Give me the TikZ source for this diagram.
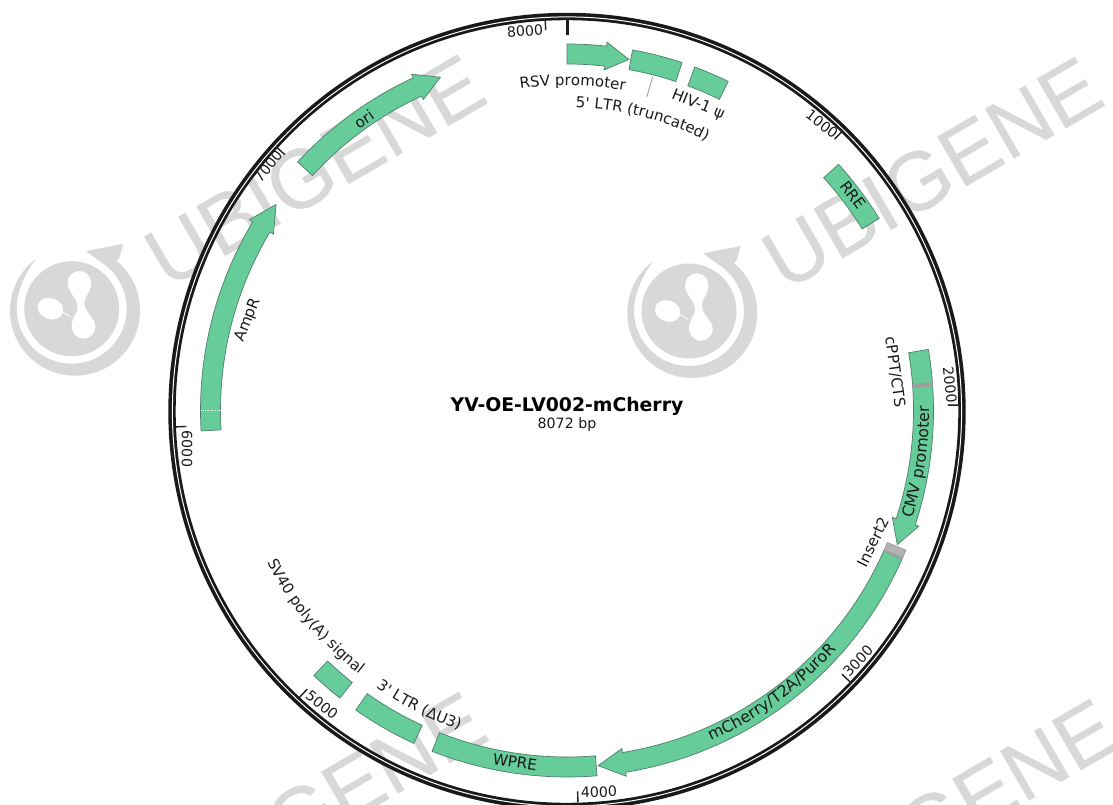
\documentclass[tikz,border=0pt]{standalone}
\usepackage{fontspec}
\setmainfont{DejaVu Sans}[Ligatures=TeXOff]
\newfontfamily\wmfamily[FakeBold=0.5]{Liberation Sans}
\usepackage{tikz}
\usetikzlibrary{decorations.text}
\definecolor{wmgray}{HTML}{D8D8D8}
\definecolor{feat}{HTML}{66CC9A}
\definecolor{featedge}{HTML}{4F7F69}
\definecolor{txt}{HTML}{1A1A1A}
\newcommand{\ri}{346.5}
\newcommand{\ro}{366.5}
\newcommand{\rc}{356.5}
\newcommand{\hi}{342.5}
\newcommand{\ho}{370.5}
\newcommand{\arcfont}{\fontsize{15}{17}\selectfont\color{txt}}
\newcommand{\arcfontbig}{\fontsize{15.8}{17}\selectfont\color{txt}}
% clockwise arrow feature: start, head base, tip (degrees clockwise from the top)
\newcommand{\featarrow}[3]{%
  \draw[featshape] ({#1-90}:\ri) arc[start angle={#1-90},end angle={#2-90},radius=\ri]
    -- ({#2-90}:\hi) -- ({#3-90}:\rc) -- ({#2-90}:\ho) -- ({#2-90}:\ro)
    arc[start angle={#2-90},end angle={#1-90},radius=\ro] -- cycle;}
% plain sector feature: style, start, end
\newcommand{\featseg}[3]{%
  \draw[#1] ({#2-90}:\ri) arc[start angle={#2-90},end angle={#3-90},radius=\ri]
    -- ({#3-90}:\ro) arc[start angle={#3-90},end angle={#2-90},radius=\ro] -- cycle;}
% curved label: font macro, radius of baseline, from angle, to angle, text
\newcommand{\arclabel}[5]{%
  \path[decorate,decoration={text along path,text align=center,
      text={|#1|#5}}]
    ({#3-90}:#2) arc[start angle={#3-90},end angle={#4-90},radius=#2];}
% watermark: logo with its disk centred at the given point, then the word
\newcommand{\wmark}[2]{%
  \begin{scope}[shift={(#1,#2)}]
    \fill[wmgray] (0,0) circle[radius=47.5];
    \fill[wmgray] (14.3,-57.7) -- (51.7,-65) -- (47.7,-51) -- (45.1,-47.8)
      arc[start angle=-50,end angle=233,radius=65]
      .. controls (-46,-36) and (-55,-18) .. (-55,0)
      arc[start angle=180,end angle=-60,radius=55]
      -- cycle;
    \fill[white] (-4,-26) .. controls (-4,-16) and (6,-11) .. (6,-1)
      .. controls (6,4) and (0,9) .. (0,17.3)
      -- (23.7,19) .. controls (23.7,9) and (12.7,4) .. (12.7,-6)
      .. controls (12.7,-12.7) and (19.3,-16) .. (19.3,-26) -- cycle;
    \fill[white] (7.7,-26) circle[radius=11.7];
    \fill[white] (11.85,18) circle[radius=11.85];
    \fill[white,rotate around={-20:(-21.3,0)}] (-21.3,0) ellipse[x radius=13,y radius=10.5];
    \draw[white,line width=0.9] (-9.7,3) -- (-0.7,8.3);
    \node[wmtext] at (243,-138) {UBIGENE};
  \end{scope}}
\tikzset{
  featshape/.style={fill=feat,draw=featedge,line width=0.7pt,line join=miter},
  grayseg/.style={fill=black!30,draw=black!40,line width=0.7pt},
  thinseg/.style={fill=black!38,draw=black!38,line width=0.3pt},
  wmtext/.style={text=wmgray,font=\wmfamily\fontsize{83}{83}\selectfont,rotate=30.2,inner sep=0pt},
  lab/.style={text=txt,font=\fontsize{15.2}{17}\selectfont,inner sep=0pt},
  ticklab/.style={text=txt,font=\fontsize{14.2}{16}\selectfont,inner sep=0pt},
  tickmark/.style={black!88,line width=1.4pt},
}
\begin{document}
\begin{tikzpicture}[x=1pt,y=-1pt]
\useasboundingbox (0,0) rectangle (1113,805);
\clip (0,0) rectangle (1113,805);
% watermarks
\wmark{71.7}{308.7}
\wmark{689}{311}
\wmark{73}{946}
\wmark{704}{953}
\begin{scope}[shift={(567,410.5)}]
  % ring
  \draw[black!90,line width=7.4pt] (0,1) circle[radius=395];
  \draw[white,line width=1pt] (0,1) circle[radius=394.6];
  % ticks
  \coordinate (t0a) at (-90:392.5); \coordinate (t0b) at (-90:375.5);
  \draw[black!88,line width=3pt] (t0a) -- (t0b);
  \foreach \n/\a in {t1/44.6,t2/89.2,t3/133.8,t4/178.4,t5/223,t6/267.6,t7/312.2,t8/356.8}{
    \coordinate (\n a) at ({\a-90}:392);
    \coordinate (\n b) at ({\a-90}:381);
    \draw[tickmark] (\n a) -- (\n b);
  }
  % features
  \featarrow{0}{6.2}{10.0}
  \featseg{featshape}{10.3}{18.3}
  \featseg{featshape}{20.4}{26.1}
  \featseg{featshape}{47.8}{58.4}
  \featarrow{86.0}{108.2}{112.1}
  \featseg{featshape}{80.4}{86.0}
  \featseg{thinseg}{85.6}{86.2}
  \featarrow{113.9}{170.8}{175.0}
  \featseg{grayseg}{112.4}{113.9}
  \featseg{thinseg}{113.7}{114.0}
  \featseg{featshape}{175.3}{201.6}
  \featseg{featshape}{204.7}{215.2}
  \featseg{featshape}{218.3}{223.7}
  \featarrow{266.8}{301}{305.3}
  \draw[white,line width=0.7pt,dash pattern=on 1.2pt off 1.2pt] (180:\ri) -- (180:\ro);
  \featarrow{312.7}{335.2}{339.2}
  % curved labels
  \arclabel{\arcfontbig}{360}{165.5}{122.5}{mCherry/T2A/PuroR}
  \arclabel{\arcfontbig}{362}{118}{78.8}{CMV promoter}
  \arclabel{\arcfont}{303}{0}{29}{5' LTR (truncated)}
  \arclabel{\arcfont}{325}{-18}{20}{RSV promoter}
  \arclabel{\arcfont}{336.7}{225}{188.2}{3' LTR (ΔU3)}
  \arclabel{\arcfont}{336}{260}{201.4}{SV40 poly(A) signal}
\end{scope}
% leader line
\coordinate (leadA) at (652.7,76.7);
\coordinate (leadB) at (646.7,97.3);
\draw[black!45,line width=0.7pt] (leadA) -- (leadB);
% centre text
\node[inner sep=0pt,text=black,font=\bfseries\fontsize{18.8}{22}\selectfont] (title) at (567,406) {YV-OE-LV002-mCherry};
\node[ticklab] (size) at (567,425) {8072 bp};
% tick labels
\node[ticklab,rotate=4] (l8000) at (525,31) {8000};
\node[ticklab,rotate=-38] (l1000) at (822,124) {1000};
\node[ticklab,rotate=-84] (l2000) at (950,385) {2000};
\node[ticklab,rotate=47] (l3000) at (858,661) {3000};
\node[ticklab,rotate=2] (l4000) at (599,792) {4000};
\node[ticklab,rotate=-38] (l5000) at (322,705) {5000};
\node[ticklab,rotate=-90] (l6000) at (187,449) {6000};
\node[ticklab,rotate=52] (l7000) at (268,166) {7000};
% feature labels
\node[lab,rotate=-22] (psi) at (698,105) {HIV-1 ψ};
\node[lab,rotate=-53] (rre) at (853,195) {RRE};
\node[lab,rotate=-82] (cppt) at (895,372) {cPPT/CTS};
\node[lab,rotate=63.4] (ins) at (873,542) {Insert2};
\node[lab,rotate=-8] (wpre) at (515,762) {WPRE};
\node[lab,rotate=68] (amp) at (248,320) {AmpR};
\node[lab,rotate=34] (ori) at (364,119) {ori};
\end{tikzpicture}
\end{document}
